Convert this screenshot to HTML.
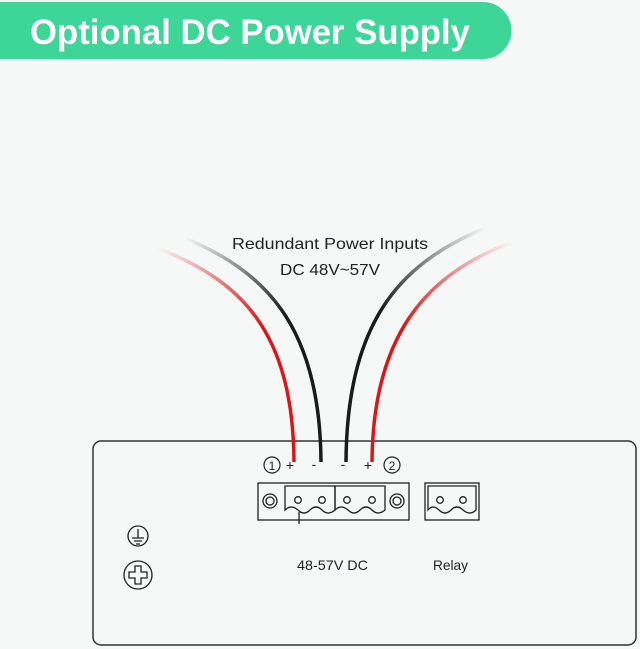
<!DOCTYPE html>
<html><head><style>
html,body{margin:0;padding:0;background:#f6f7f7;}
body{width:640px;height:649px;position:relative;overflow:hidden;font-family:"Liberation Sans",sans-serif;}
</style></head><body>
<svg width="640" height="649" viewBox="0 0 640 649" xmlns="http://www.w3.org/2000/svg" style="position:absolute;left:0;top:0">
<defs>
<linearGradient id="rl" gradientUnits="userSpaceOnUse" x1="157" y1="248" x2="260" y2="330"><stop offset="0" stop-color="#d81818" stop-opacity="0"/><stop offset="1" stop-color="#d81818"/></linearGradient>
<linearGradient id="bl" gradientUnits="userSpaceOnUse" x1="185" y1="238" x2="280" y2="320"><stop offset="0" stop-color="#1a1a1a" stop-opacity="0"/><stop offset="1" stop-color="#1a1a1a"/></linearGradient>
<linearGradient id="br" gradientUnits="userSpaceOnUse" x1="485" y1="228" x2="390" y2="320"><stop offset="0" stop-color="#1a1a1a" stop-opacity="0"/><stop offset="1" stop-color="#1a1a1a"/></linearGradient>
<linearGradient id="rr" gradientUnits="userSpaceOnUse" x1="512" y1="242" x2="410" y2="335"><stop offset="0" stop-color="#d81818" stop-opacity="0"/><stop offset="1" stop-color="#d81818"/></linearGradient>
</defs>
<path d="M0,2 H483 A28.5,28.5 0 0 1 483,59 H0 Z" fill="#3dd598"/>
<text x="30" y="44" font-size="35" font-weight="bold" fill="#fff" textLength="440" lengthAdjust="spacingAndGlyphs">Optional DC Power Supply</text>
<text x="232" y="249" font-size="16" fill="#222" textLength="196" lengthAdjust="spacingAndGlyphs">Redundant Power Inputs</text>
<text x="280" y="275" font-size="16" fill="#222" textLength="100" lengthAdjust="spacingAndGlyphs">DC 48V~57V</text>
<rect x="93" y="441" width="543" height="204" rx="8" fill="none" stroke="#333" stroke-width="1.5"/>
<path d="M157,248 C240,280 293,330 294,462" fill="none" stroke="url(#rl)" stroke-width="3.5"/>
<path d="M185,238 C260,270 320,320 321,462" fill="none" stroke="url(#bl)" stroke-width="3.5"/>
<path d="M485,228 C410,260 347,310 346,462" fill="none" stroke="url(#br)" stroke-width="3.5"/>
<path d="M512,242 C440,270 373,320 372,462" fill="none" stroke="url(#rr)" stroke-width="3.5"/>
<g font-size="14" fill="#222" text-anchor="middle">
<circle cx="272" cy="465" r="8" fill="none" stroke="#222" stroke-width="1.2"/><text x="272" y="470" font-size="12">1</text>
<text x="290" y="470">+</text><text x="314" y="469">-</text><text x="343" y="469">-</text><text x="368" y="470">+</text>
<circle cx="392" cy="465" r="8" fill="none" stroke="#222" stroke-width="1.2"/><text x="392" y="470" font-size="12">2</text>
</g>
<g fill="none" stroke="#222" stroke-width="1.3">
<rect x="258" y="483" width="151" height="37"/>
<circle cx="270" cy="501" r="7"/><circle cx="270" cy="501" r="4"/>
<circle cx="397" cy="501" r="7"/><circle cx="397" cy="501" r="4"/>
<path d="M285,486 H335 V510 Q328,516 322,510 Q316,504 310,510 Q304,516 298,510 Q291,504 285,510 Z"/>
<path d="M335,486 H385 V510 Q378,516 372,510 Q366,504 360,510 Q354,516 348,510 Q341,504 335,510 Z"/>
<path d="M299,512 V524"/>
<circle cx="298" cy="500" r="3.3"/><circle cx="322" cy="500" r="3.3"/><circle cx="347" cy="500" r="3.3"/><circle cx="372" cy="500" r="3.3"/>
<rect x="425" y="483" width="54" height="37"/>
<path d="M428,486 H476 V510 Q470,516 463,510 Q457,504 451,510 Q445,516 439,510 Q433,504 428,510 Z"/>
<circle cx="440" cy="500" r="3.3"/><circle cx="463" cy="500" r="3.3"/>
<circle cx="138" cy="536" r="10"/>
<path d="M138,529 V538 M132,538 H144 M134,541 H142 M136,544 H140"/>
<circle cx="138" cy="575" r="14"/>
<path d="M135,566 H141 V572 H147 V578 H141 V584 H135 V578 H129 V572 H135 Z"/>
</g>
<text x="297" y="570" font-size="14" fill="#222" textLength="71" lengthAdjust="spacingAndGlyphs">48-57V DC</text>
<text x="433" y="570" font-size="14" fill="#222" textLength="35" lengthAdjust="spacingAndGlyphs">Relay</text>
</svg>
</body></html>
